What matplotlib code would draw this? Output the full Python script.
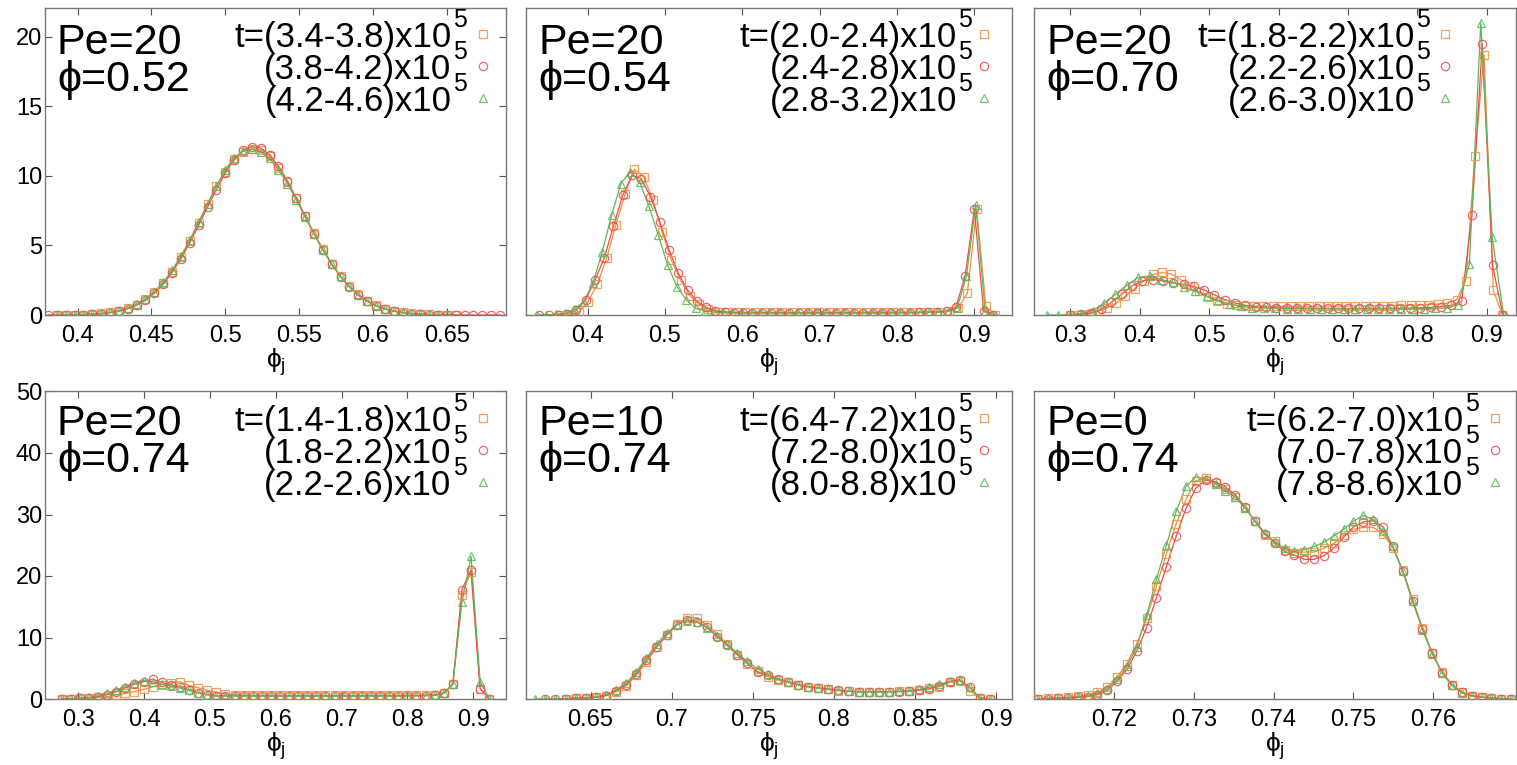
import matplotlib.pyplot as plt
import matplotlib.transforms as mtransforms
import numpy as np

plt.rcParams['font.family'] = ['Liberation Sans', 'DejaVu Sans']
plt.rcParams['mathtext.fontset'] = 'custom'
plt.rcParams['mathtext.rm'] = 'Liberation Sans'
plt.rcParams['mathtext.it'] = 'Liberation Sans'
plt.rcParams['mathtext.bf'] = 'Liberation Sans:bold'
plt.rcParams['mathtext.fallback'] = 'stixsans'

# ============================================
# DATA  (bin start, bin width, histogram values)
# ============================================

# --- Pe=20, phi=0.52 ---
p1_bins = {"orange": (0.386, 0.006), "red": (0.380, 0.006), "green": (0.386, 0.006)}
p1_orange = [0.0, 0.01, 0.02, 0.03, 0.06, 0.11, 0.18, 0.30, 0.48, 0.75,
             1.15, 1.65, 2.28, 3.1, 4.15, 5.3, 6.6, 7.95, 9.25, 10.3,
             11.2, 11.75, 11.95, 11.85, 11.4, 10.6, 9.55, 8.4, 7.15, 5.9,
             4.75, 3.7, 2.8, 2.05, 1.48, 1.02, 0.69, 0.45, 0.29, 0.18,
             0.11, 0.06, 0.04, 0.02, 0.01, 0.0]
p1_red = [0.0, 0.0, 0.01, 0.02, 0.03, 0.05, 0.09, 0.16, 0.27, 0.45,
          0.70, 1.06, 1.55, 2.22, 3.05, 4.05, 5.2, 6.45, 7.75, 9.0,
          10.2, 11.15, 11.85, 12.1, 12.0, 11.5, 10.7, 9.65, 8.4, 7.1,
          5.85, 4.7, 3.65, 2.75, 2.0, 1.42, 0.98, 0.66, 0.43, 0.27,
          0.16, 0.1, 0.06, 0.03, 0.02, 0.01, 0.0, 0.0, 0.0, 0.0,
          0.0, 0.0]
p1_green = [0.0, 0.01, 0.02, 0.03, 0.06, 0.1, 0.18, 0.3, 0.49, 0.76,
            1.15, 1.68, 2.35, 3.2, 4.25, 5.4, 6.7, 8.0, 9.3, 10.45,
            11.3, 11.8, 11.9, 11.75, 11.25, 10.45, 9.45, 8.3, 7.05, 5.85,
            4.7, 3.65, 2.78, 2.05, 1.47, 1.02, 0.68, 0.45, 0.28, 0.17,
            0.1, 0.06, 0.03, 0.02, 0.01]

# --- Pe=20, phi=0.54 ---
p2_bins = {"orange": (0.3647, 0.01196), "red": (0.3378, 0.01196), "green": (0.3345, 0.01207)}
p2_orange = [0.0, 0.0, 0.24, 0.96, 2.2, 4.07, 6.46, 8.69, 10.48, 9.93,
             8.3, 5.98, 3.95, 2.51, 1.39, 0.77, 0.41, 0.24,
             0.22, 0.21, 0.2, 0.2, 0.2, 0.19, 0.19, 0.19, 0.19, 0.19,
             0.19, 0.19, 0.19, 0.19, 0.19, 0.2, 0.2, 0.2, 0.2, 0.2,
             0.21, 0.21, 0.22, 0.24,
             0.3, 0.5, 1.58, 7.63, 0.62, 0.0]
p2_red = [0.0, 0.0, 0.03, 0.1, 0.35, 1.1, 2.5, 4.1, 6.4, 8.6,
          10.05, 9.8, 8.5, 6.7, 4.7, 3.0, 1.8, 1.0, 0.55, 0.32, 0.22,
          0.17, 0.16, 0.15, 0.15, 0.15, 0.15, 0.14, 0.14, 0.14, 0.14,
          0.14, 0.15, 0.15, 0.15, 0.15, 0.15, 0.15, 0.16, 0.16, 0.17,
          0.18, 0.2, 0.22,
          0.3, 0.55, 2.78, 7.63, 0.26, 0.0]
p2_green = [0.0, 0.0, 0.05, 0.12, 0.4, 0.96, 2.27, 4.55, 7.18, 9.45,
            10.3, 9.57, 7.8, 5.74, 3.59, 2.03, 1.08, 0.48, 0.31, 0.2,
            0.16, 0.15, 0.15, 0.14, 0.14, 0.14, 0.14, 0.14, 0.14, 0.14,
            0.14, 0.14, 0.14, 0.14, 0.15, 0.15, 0.15, 0.15, 0.15, 0.16,
            0.16, 0.17, 0.18, 0.2,
            0.25, 0.5, 2.78, 7.9, 0.3, 0.0]

# --- Pe=20, phi=0.70 ---
p3_bins = {"orange": (0.2998, 0.01325), "red": (0.2998, 0.01484), "green": (0.2662, 0.01645)}
p3_orange = [0.0, 0.02, 0.1, 0.25, 0.5, 0.85, 1.35, 1.9, 2.45, 2.92,
             3.06, 2.94, 2.55, 2.1, 1.7, 1.3, 1.0, 0.79, 0.7,
             0.66, 0.64, 0.63, 0.63, 0.63, 0.63, 0.63, 0.63, 0.63, 0.63,
             0.64, 0.64, 0.65, 0.65, 0.66, 0.67, 0.68, 0.69, 0.7, 0.72,
             0.75, 0.78,
             0.85, 1.1, 2.46, 11.4, 18.7, 1.77, 0.0]
p3_red = [0.0, 0.05, 0.15, 0.4, 0.9, 1.5, 2.1, 2.45, 2.55, 2.45,
          2.3, 2.2, 2.05, 1.8, 1.45, 1.1, 0.85, 0.7, 0.6,
          0.55, 0.52, 0.5, 0.5, 0.49, 0.48, 0.48, 0.48, 0.47, 0.47,
          0.47, 0.48, 0.48, 0.49, 0.5, 0.52, 0.55, 0.6,
          0.7, 0.98, 7.2, 19.5, 3.56, 0.0]
p3_green = [0.0, 0.0, 0.03, 0.1, 0.31, 0.84, 1.48, 2.15, 2.7, 2.8,
            2.55, 2.35, 2.03, 1.7, 1.35, 1.05, 0.8, 0.62, 0.53,
            0.5, 0.48, 0.46, 0.45, 0.44, 0.44, 0.43, 0.43, 0.43, 0.43,
            0.43, 0.44, 0.44, 0.45, 0.46, 0.48,
            0.5, 0.74, 3.66, 21.0, 5.6, 0.0]

# --- Pe=20, phi=0.74 ---
p4_bins = {"orange": (0.2747, 0.01382), "red": (0.2747, 0.01382), "green": (0.2747, 0.01382)}
p4_orange = [0.0, 0.05, 0.1, 0.15, 0.25, 0.4, 0.65, 0.9, 1.2, 1.57,
             2.0, 2.3, 2.6, 2.8, 2.2, 1.85, 1.4, 1.1, 0.8, 0.7,
             0.62, 0.6, 0.6, 0.58, 0.58, 0.57, 0.57, 0.57, 0.57, 0.57,
             0.57, 0.57, 0.57, 0.57, 0.58, 0.58, 0.58, 0.6, 0.6, 0.62,
             0.65,
             0.7, 1.0, 2.5, 16.9, 20.7, 1.7, 0.0]
p4_red = [0.0, 0.05, 0.1, 0.2, 0.4, 0.7, 1.2, 1.8, 2.4, 2.8,
          3.2, 2.7, 2.3, 2.0, 1.5, 1.0, 0.7, 0.55, 0.5, 0.5,
          0.5, 0.49, 0.49, 0.48, 0.48, 0.48, 0.48, 0.48, 0.48, 0.48,
          0.48, 0.48, 0.48, 0.48, 0.49, 0.49, 0.5, 0.5, 0.51, 0.53,
          0.55,
          0.6, 0.9, 2.4, 17.8, 21.0, 1.7, 0.0]
p4_green = [0.0, 0.05, 0.1, 0.25, 0.5, 0.9, 1.5, 2.0, 2.66, 3.0,
            2.8, 2.4, 2.1, 1.8, 1.4, 1.0, 0.7, 0.55, 0.5, 0.5,
            0.49, 0.48, 0.48, 0.47, 0.47, 0.47, 0.47, 0.47, 0.47, 0.47,
            0.47, 0.47, 0.47, 0.47, 0.48, 0.48, 0.49, 0.49, 0.5, 0.52,
            0.55,
            0.6, 0.9, 2.4, 15.7, 23.2, 2.8, 0.0]

# --- Pe=10, phi=0.74 ---
p5_bins = {"orange": (0.6346, 0.00623), "red": (0.6221, 0.00623), "green": (0.6159, 0.00623)}
p5_orange = [0.0, 0.16, 0.16, 0.27, 0.54, 1.19, 2.17, 3.9, 5.97, 8.4,
             10.4, 12.2, 13.2, 13.2, 12.0, 10.6, 8.9, 7.2, 5.7, 4.5,
             3.6, 3.1, 2.7, 2.3, 2.0, 1.8, 1.57, 1.36, 1.25, 1.19,
             1.19, 1.19, 1.19, 1.25, 1.36, 1.46, 1.8, 2.0, 2.7, 2.98,
             1.36, 0.16, 0.0]
p5_red = [0.0, 0.0, 0.0, 0.16, 0.16, 0.27, 0.54, 1.36, 2.33, 4.07,
          6.35, 8.5, 10.4, 12.0, 12.85, 12.6, 11.66, 10.1, 8.7, 7.2,
          5.8, 4.34, 3.9, 3.25, 2.82, 2.33, 2.0, 1.8, 1.63, 1.46,
          1.25, 1.19, 1.19, 1.19, 1.19, 1.19, 1.25, 1.46, 1.63, 2.17,
          2.82, 3.15, 1.9, 0.16, 0.0]
p5_green = [0.0, 0.0, 0.0, 0.05, 0.16, 0.2, 0.35, 0.7, 1.5, 2.6,
            4.4, 6.7, 8.9, 10.7, 12.1, 12.7, 12.5, 11.6, 10.3, 8.9,
            7.5, 6.1, 4.9, 4.0, 3.3, 2.8, 2.35, 2.0, 1.8, 1.6,
            1.4, 1.25, 1.19, 1.19, 1.19, 1.19, 1.25, 1.35, 1.55, 1.9,
            2.4, 2.85, 3.05, 1.9, 0.2, 0.0]

# --- Pe=0, phi=0.74 ---
p6_bins = {"orange": (0.7105, 0.001235), "red": (0.7105, 0.001235), "green": (0.7105, 0.001235)}
p6_orange = [0.0, 0.16, 0.16, 0.27, 0.43, 0.6, 1.09, 1.96, 3.59, 5.76,
             9.02, 13.1, 18.4, 23.6, 28.5, 32.5, 35.5, 35.9, 35.1, 34.2,
             32.9, 31.1, 28.9, 26.7, 25.7, 24.3, 23.8, 23.9, 23.9, 24.5,
             25.3, 26.6, 27.6, 27.9, 27.9, 26.8, 24.6, 21.0, 16.2, 11.6,
             7.5, 4.35, 2.34, 1.09, 0.54, 0.33, 0.16, 0.05, 0.0]
p6_red = [0.0, 0.05, 0.1, 0.15, 0.25, 0.4, 0.7, 1.4, 2.9, 4.8,
          7.8, 11.6, 16.5, 21.5, 26.5, 31.0, 34.3, 35.6, 35.3, 34.5,
          33.2, 31.2, 28.9, 26.9, 25.3, 24.0, 23.4, 22.7, 22.7, 23.3,
          24.5, 26.3, 28.0, 28.8, 29.0, 28.0, 24.8, 20.8, 16.0, 11.4,
          7.4, 4.3, 2.3, 1.1, 0.54, 0.3, 0.15, 0.05, 0.0]
p6_green = [0.0, 0.1, 0.16, 0.2, 0.35, 0.5, 0.9, 1.7, 3.2, 5.3,
            8.5, 13.6, 19.5, 25.0, 30.5, 34.6, 36.1, 35.8, 35.0, 33.9,
            32.8, 31.0, 29.0, 27.0, 25.5, 24.5, 24.0, 24.3, 24.8, 25.5,
            26.5, 27.6, 28.9, 29.85, 29.2, 27.3, 24.8, 20.8, 15.9, 11.3,
            7.3, 4.2, 2.2, 1.0, 0.5, 0.3, 0.15, 0.05, 0.0]

pe_labels = ["Pe=20", "Pe=20", "Pe=20", "Pe=20", "Pe=10", "Pe=0"]
phi_labels = ["\u03d5=0.52", "\u03d5=0.54", "\u03d5=0.70", "\u03d5=0.74", "\u03d5=0.74", "\u03d5=0.74"]
time_labels = [
    ["t=(3.4-3.8)x10", "(3.8-4.2)x10", "(4.2-4.6)x10"],
    ["t=(2.0-2.4)x10", "(2.4-2.8)x10", "(2.8-3.2)x10"],
    ["t=(1.8-2.2)x10", "(2.2-2.6)x10", "(2.6-3.0)x10"],
    ["t=(1.4-1.8)x10", "(1.8-2.2)x10", "(2.2-2.6)x10"],
    ["t=(6.4-7.2)x10", "(7.2-8.0)x10", "(8.0-8.8)x10"],
    ["t=(6.2-7.0)x10", "(7.0-7.8)x10", "(7.8-8.6)x10"],
]
time_exponent = "5"

xticks = [
    [0.4, 0.45, 0.5, 0.55, 0.6, 0.65],
    [0.4, 0.5, 0.6, 0.7, 0.8, 0.9],
    [0.3, 0.4, 0.5, 0.6, 0.7, 0.8, 0.9],
    [0.3, 0.4, 0.5, 0.6, 0.7, 0.8, 0.9],
    [0.65, 0.7, 0.75, 0.8, 0.85, 0.9],
    [0.72, 0.73, 0.74, 0.75, 0.76],
]
xtick_labels = [
    ["0.4", "0.45", "0.5", "0.55", "0.6", "0.65"],
    ["0.4", "0.5", "0.6", "0.7", "0.8", "0.9"],
    ["0.3", "0.4", "0.5", "0.6", "0.7", "0.8", "0.9"],
    ["0.3", "0.4", "0.5", "0.6", "0.7", "0.8", "0.9"],
    ["0.65", "0.7", "0.75", "0.8", "0.85", "0.9"],
    ["0.72", "0.73", "0.74", "0.75", "0.76"],
]
yticks_top = [0, 5, 10, 15, 20]
yticks_bottom = [0, 10, 20, 30, 40, 50]

# ============================================
# STYLE / LAYOUT
# ============================================

COLORS = {"orange": "#f4913f", "red": "#ee4b50", "green": "#5cb85c"}
MARKERS = {"orange": "s", "red": "o", "green": "^"}

xlims = [(0.378, 0.690), (0.320, 0.949), (0.248, 0.942),
         (0.2494, 0.9497), (0.610, 0.910), (0.710, 0.7704)]
ylims = [(0, 22.1)] * 3 + [(0, 50)] * 3

col_left = [45 / 1517, 525.7 / 1517, 1034.3 / 1517]
col_width = [461 / 1517, 486.6 / 1517, 481.7 / 1517]
row_bottom = [1 - 315 / 765, 1 - 699 / 765]
row_height = 307.5 / 765

# right end of "x10" text / legend marker x (axes fraction)
legend_x = [(0.882, 0.950), (0.886, 0.941), (0.790, 0.853),
            (0.882, 0.950), (0.886, 0.941), (0.891, 0.956)]
# horizontal shift of tick labels in pixels (panel 5 labels sit left of ticks)
label_shift = [0, 0, 0, 0, -20, 0]

panels = [
    (p1_bins, p1_orange, p1_red, p1_green),
    (p2_bins, p2_orange, p2_red, p2_green),
    (p3_bins, p3_orange, p3_red, p3_green),
    (p4_bins, p4_orange, p4_red, p4_green),
    (p5_bins, p5_orange, p5_red, p5_green),
    (p6_bins, p6_orange, p6_red, p6_green),
]

fig = plt.figure(figsize=(15.17, 7.65), dpi=100)

for i, (bins, y_or, y_rd, y_gr) in enumerate(panels):
    row, col = divmod(i, 3)
    ax = fig.add_axes([col_left[col], row_bottom[row], col_width[col], row_height])

    for name, yvals in (("orange", y_or), ("red", y_rd), ("green", y_gr)):
        x0, w = bins[name]
        x = x0 + w * np.arange(len(yvals))
        ax.plot(x, yvals, '-', color=COLORS[name], lw=0.9, zorder=2)
        ax.plot(x, yvals, MARKERS[name], mfc='none', mec=COLORS[name],
                mew=0.9, ms=6, alpha=0.85, zorder=3)

    ax.set_xlim(*xlims[i])
    ax.set_ylim(*ylims[i])
    ax.set_xticks(xticks[i])
    ax.set_xticklabels(xtick_labels[i])
    if label_shift[i]:
        shift = mtransforms.ScaledTranslation(label_shift[i] / 100, 0, fig.dpi_scale_trans)
        for lab in ax.get_xticklabels():
            lab.set_transform(lab.get_transform() + shift)

    if col == 0:
        ax.set_yticks(yticks_top if row == 0 else yticks_bottom)
        ax.tick_params(axis='y', direction='in', length=5, right=True,
                       labelsize=17, pad=2, color='#555555')
    else:
        ax.set_yticks([])

    ax.tick_params(axis='x', direction='in', length=5, top=True,
                   labelsize=17, pad=7, color='#555555')
    for sp in ax.spines.values():
        sp.set_color('#777777')
        sp.set_linewidth(1.0)

    ax.set_xlabel(r'$\phi_{\mathregular{j}}$', fontsize=19, labelpad=0)

    # Pe / phi annotation
    ybase = (0.849, 0.730) if row == 0 else (0.857, 0.738)
    ax.text(0.026, ybase[0], pe_labels[i], transform=ax.transAxes,
            fontsize=31, va='baseline', ha='left')
    ax.text(0.026, ybase[1], phi_labels[i], transform=ax.transAxes,
            fontsize=31, va='baseline', ha='left')

    # legend-like block: text, raised exponent, marker
    tx, mx = legend_x[i]
    for j, name in enumerate(("orange", "red", "green")):
        yb = 0.871 - 0.1045 * j
        ax.text(tx, yb, time_labels[i][j], transform=ax.transAxes,
                fontsize=25, va='baseline', ha='right')
        ax.annotate(time_exponent, xy=(tx, yb), xycoords='axes fraction',
                    xytext=(1, 14.5), textcoords='offset points',
                    fontsize=18, va='baseline', ha='left')
        ax.plot([mx], [yb + 0.043], MARKERS[name], mfc='none', mec=COLORS[name],
                mew=0.9, ms=6, alpha=0.85, transform=ax.transAxes, clip_on=False)

fig.savefig('out.png', dpi=100)
